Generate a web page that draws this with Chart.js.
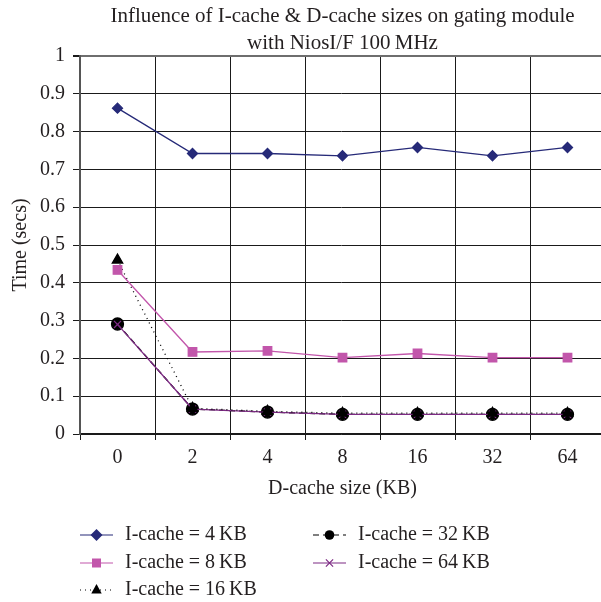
<!DOCTYPE html>
<html>
<head>
<meta charset="utf-8">
<script src="https://cdn.jsdelivr.net/npm/chart.js@4/dist/chart.umd.min.js"></script>
<style>
html, body { margin: 0; padding: 0; background: #fff; overflow: hidden; }
canvas { display: block; }
</style>
</head>
<body>
<canvas id="canvas1" width="601" height="602"></canvas>
<script>
var dCacheSizes = ['0', '2', '4', '8', '16', '32', '64'];
var iCache4 = [0.862, 0.742, 0.742, 0.736, 0.758, 0.736, 0.758];
var iCache8 = [0.434, 0.217, 0.220, 0.202, 0.213, 0.202, 0.202];
var iCache16 = [0.460, 0.068, 0.060, 0.055, 0.055, 0.055, 0.055];
var iCache32 = [0.291, 0.066, 0.058, 0.052, 0.052, 0.052, 0.052];
var iCache64 = [0.290, 0.066, 0.058, 0.052, 0.052, 0.052, 0.052];
var yTicks = [0, 0.1, 0.2, 0.3, 0.4, 0.5, 0.6, 0.7, 0.8, 0.9, 1];
var titleLines = ['Influence of I-cache & D-cache sizes on gating module', 'with NiosI/F 100\u2009MHz'];

var serif = '"Liberation Serif", "DejaVu Serif", serif';
var textColor = '#231f20';
var fontSize = 20;
var categoryWidth = 75;

var canvas1;
var myChart1;

// legend is laid out in two columns like the original, so it is drawn by hand
var legendSlots = [
    {ds: 0, x: 80, y: 535},
    {ds: 1, x: 80, y: 563},
    {ds: 2, x: 80, y: 590},
    {ds: 3, x: 313, y: 535},
    {ds: 4, x: 313, y: 563}
];

function drawMarker(ctx, style, x, y, r, color) {
    ctx.save();
    ctx.fillStyle = color;
    ctx.strokeStyle = color;
    ctx.setLineDash([]);
    ctx.beginPath();
    if (style == 'rectRot') {
        ctx.moveTo(x, y - r); ctx.lineTo(x + r, y); ctx.lineTo(x, y + r); ctx.lineTo(x - r, y);
        ctx.closePath(); ctx.fill();
    } else if (style == 'rect') {
        ctx.rect(x - r * 0.75, y - r * 0.75, r * 1.5, r * 1.5); ctx.fill();
    } else if (style == 'triangle') {
        ctx.moveTo(x, y - r); ctx.lineTo(x + r * 0.87, y + r * 0.6); ctx.lineTo(x - r * 0.87, y + r * 0.6);
        ctx.closePath(); ctx.fill();
    } else if (style == 'circle') {
        ctx.arc(x, y, r * 0.8, 0, Math.PI * 2); ctx.fill();
    } else if (style == 'crossRot') {
        ctx.lineWidth = 1.2;
        var d = r * 0.6;
        ctx.moveTo(x - d, y - d); ctx.lineTo(x + d, y + d);
        ctx.moveTo(x + d, y - d); ctx.lineTo(x - d, y + d);
        ctx.stroke();
    }
    ctx.restore();
}

var extrasPlugin = {
    id: 'extras',
    afterLayout: function(chart) {
        // the original plot runs a few px past the right edge of the picture
        var x = chart.scales.x;
        var right = x.left + dCacheSizes.length * categoryWidth;
        x.right = right;
        x.width = right - x.left;
        x._endPixel = right;
        x._length = right - x.left;
        chart.chartArea.right = right;
        chart.chartArea.width = right - chart.chartArea.left;
    },
    afterDraw: function(chart) {
        var ctx = chart.ctx;
        var area = chart.chartArea;
        ctx.save();
        ctx.fillStyle = textColor;
        ctx.font = '21px ' + serif;
        ctx.textAlign = 'center';
        ctx.textBaseline = 'middle';
        var cx = (area.left + area.right) / 2;
        ctx.fillText(titleLines[0], cx, 16);
        ctx.fillText(titleLines[1], cx, 43);

        ctx.textAlign = 'left';
        legendSlots.forEach(function(s) {
            var ds = chart.data.datasets[s.ds];
            ctx.save();
            ctx.strokeStyle = ds.borderColor;
            ctx.lineWidth = 1.2;
            ctx.setLineDash(ds.borderDash || []);
            ctx.beginPath();
            ctx.moveTo(s.x, s.y);
            ctx.lineTo(s.x + 33, s.y);
            ctx.stroke();
            ctx.restore();
            drawMarker(ctx, ds.pointStyle, s.x + 16.5, s.y, 6, ds.pointBackgroundColor);
            ctx.fillStyle = textColor;
            ctx.font = fontSize + 'px ' + serif;
            ctx.fillText(ds.label, s.x + 45, s.y);
        });
        ctx.restore();
    }
};

function start() {
    canvas1 = document.getElementById('canvas1');
    setchart();
}

function setchart() {
    myChart1 = new Chart(canvas1, {
        type: 'line',
        data: {
            labels: dCacheSizes,
            datasets: [{
                label: 'I-cache = 4\u2009KB',
                data: iCache4,
                borderColor: '#262a78',
                pointBackgroundColor: '#262a78',
                pointBorderColor: '#262a78',
                pointStyle: 'rectRot',
                pointRadius: 5,
                borderWidth: 1.3,
                order: 1
            }, {
                label: 'I-cache = 8\u2009KB',
                data: iCache8,
                borderColor: '#c256ab',
                pointBackgroundColor: '#c256ab',
                pointBorderColor: '#c256ab',
                pointStyle: 'rect',
                pointRadius: 6,
                borderWidth: 1.3,
                order: 2
            }, {
                label: 'I-cache = 16\u2009KB',
                data: iCache16,
                borderColor: '#000000',
                pointBackgroundColor: '#000000',
                pointBorderColor: '#000000',
                pointStyle: 'triangle',
                pointRadius: 6,
                borderWidth: 1.3,
                borderDash: [1, 4],
                order: 3
            }, {
                label: 'I-cache = 32\u2009KB',
                data: iCache32,
                borderColor: '#000000',
                pointBackgroundColor: '#000000',
                pointBorderColor: '#000000',
                pointStyle: 'circle',
                pointRadius: 6,
                borderWidth: 1.3,
                borderDash: [6, 4],
                order: 5
            }, {
                label: 'I-cache = 64\u2009KB',
                data: iCache64,
                borderColor: '#7d2a84',
                pointBackgroundColor: '#7d2a84',
                pointBorderColor: '#7d2a84',
                pointStyle: 'crossRot',
                pointRadius: 5,
                pointBorderWidth: 1.3,
                borderWidth: 1.3,
                order: 4
            }]
        },
        options: {
            responsive: false,
            animation: false,
            layout: {
                padding: {top: 56, bottom: 98, left: 0, right: 0}
            },
            plugins: {
                legend: {display: false},
                title: {display: false},
                tooltip: {enabled: false}
            },
            scales: {
                x: {
                    offset: true,
                    grid: {
                        offset: true,
                        color: '#1a1a1a',
                        lineWidth: 1,
                        tickLength: 6,
                        tickColor: '#1a1a1a'
                    },
                    border: {color: '#1a1a1a', width: 1.5},
                    ticks: {
                        color: textColor,
                        padding: 6,
                        font: {family: serif, size: fontSize}
                    },
                    title: {
                        display: true,
                        text: 'D-cache size (KB)',
                        color: textColor,
                        font: {family: serif, size: fontSize},
                        padding: {top: 4, bottom: 3}
                    },
                    afterFit: function(s) { s.height = 70; }
                },
                y: {
                    min: 0,
                    max: 1,
                    afterBuildTicks: function(s) {
                        s.ticks = yTicks.map(function(v) { return {value: v}; });
                    },
                    grid: {
                        color: function(c) { return c.tick && c.tick.value == 1 ? '#6e6e6e' : '#1a1a1a'; },
                        lineWidth: function(c) { return c.tick && c.tick.value == 1 ? 2 : 1; },
                        tickLength: 7,
                        tickColor: '#1a1a1a'
                    },
                    border: {color: '#555555', width: 2},
                    ticks: {
                        color: textColor,
                        padding: 8,
                        font: {family: serif, size: fontSize},
                        callback: function(v) { return String(Math.round(v * 10) / 10); }
                    },
                    title: {
                        display: true,
                        text: 'Time (secs)',
                        color: textColor,
                        font: {family: serif, size: fontSize},
                        padding: {top: 9, bottom: 4}
                    },
                    afterFit: function(s) { s.width = 80; }
                }
            }
        },
        plugins: [extrasPlugin]
    });
}

start();
</script>
</body>
</html>
